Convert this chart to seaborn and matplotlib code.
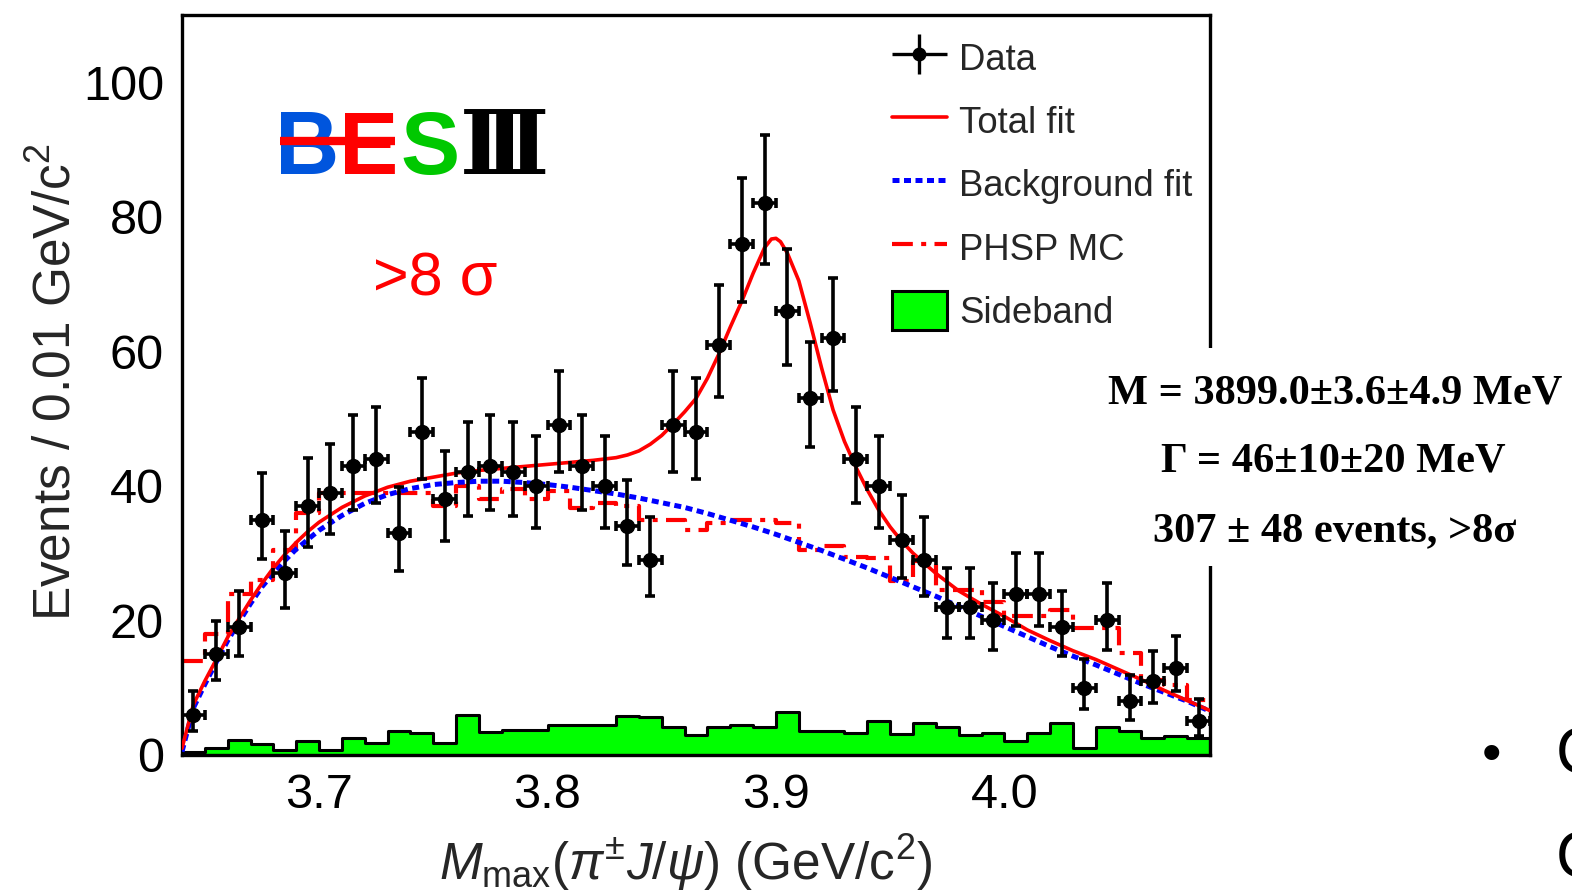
import numpy as np
import pandas as pd
import matplotlib
matplotlib.use("Agg")
import matplotlib.pyplot as plt
import seaborn as sns
from matplotlib.lines import Line2D
from matplotlib.patches import Patch, Rectangle
from matplotlib.legend_handler import HandlerErrorbar
from matplotlib.ticker import MultipleLocator, FixedLocator

# ---------------- data ----------------
bin_lo, bin_w, n_bins = 3.64, 0.01, 45

data_counts = [6, 15, 19, 35, 27, 37, 39, 43, 44, 33, 48, 38, 42, 43, 42,
               40, 49, 43, 40, 34, 29, 49, 48, 61, 76, 82, 66, 53, 62, 44,
               40, 32, 29, 22, 22, 20, 24, 24, 19, 10, 20, 8, 11, 13, 5]

phsp_mc = [14, 18, 24, 26, 30.5, 36, 39, 39, 39, 39, 39, 37, 40, 38, 39.5,
           38, 39.3, 36.7, 37.4, 37, 35, 35, 33.5, 34.5, 35, 35, 34.5, 30.5, 31, 29.4,
           29.3, 25.8, 28.8, 24.6, 24.6, 22.8, 20.6, 20.6, 21.6, 18.9, 18.9, 15.1, 11.2, 10.4, 8.2]

sideband = [0.5, 1.1, 2.2, 1.7, 0.7, 2.1, 0.8, 2.5, 1.8, 3.5, 3.2, 1.8, 5.9, 3.4, 3.7,
            3.7, 4.5, 4.5, 4.5, 5.8, 5.6, 4.2, 3.0, 4.2, 4.5, 4.2, 6.4, 3.5, 3.5, 3.2,
            5.1, 3.1, 4.7, 4.2, 3.0, 3.2, 2.1, 3.3, 4.75, 1.0, 4.15, 3.5, 2.6, 2.8, 2.6]

fit_x = [3.640, 3.645, 3.650, 3.655, 3.660, 3.665, 3.670, 3.675, 3.680, 3.685,
         3.690, 3.695, 3.700, 3.710, 3.720, 3.730, 3.740, 3.750, 3.760, 3.770,
         3.780, 3.790, 3.800, 3.810, 3.820, 3.830, 3.835, 3.840, 3.845, 3.850,
         3.855, 3.860, 3.865, 3.870, 3.875, 3.880, 3.885, 3.890, 3.895, 3.898,
         3.900, 3.902, 3.905, 3.910, 3.915, 3.920, 3.925, 3.930, 3.935, 3.940,
         3.945, 3.950, 3.955, 3.960, 3.970, 3.980, 3.990, 4.000, 4.010, 4.020,
         4.030, 4.040, 4.050, 4.060, 4.070, 4.080, 4.090]
total_fit = [1.0, 7.5, 11.0, 14.2, 17.5, 20.3, 23.0, 25.5, 27.8, 29.8,
             31.6, 33.2, 34.6, 36.8, 38.5, 39.8, 40.7, 41.3, 41.9, 42.3,
             42.6, 42.9, 43.2, 43.5, 43.8, 44.2, 44.6, 45.2, 46.2, 47.5,
             49.2, 51.0, 53.0, 56.0, 59.6, 63.6, 67.4, 71.6, 75.4, 76.7,
             76.8, 76.3, 74.6, 70.5, 64.2, 57.5, 51.3, 46.6, 42.8, 39.4,
             36.4, 33.9, 31.8, 30.0, 27.0, 24.4, 22.4, 20.6, 18.6, 17.0,
             15.5, 14.2, 12.7, 11.2, 9.6, 8.1, 6.6]

bkg_x = [3.640, 3.645, 3.650, 3.655, 3.660, 3.665, 3.670, 3.675, 3.680, 3.685,
         3.690, 3.695, 3.700, 3.710, 3.720, 3.730, 3.740, 3.750, 3.760, 3.770,
         3.780, 3.790, 3.800, 3.810, 3.820, 3.830, 3.840, 3.850, 3.860, 3.870,
         3.880, 3.890, 3.900, 3.910, 3.920, 3.930, 3.940, 3.950, 3.960, 3.970,
         3.980, 3.990, 4.000, 4.010, 4.020, 4.030, 4.040, 4.050, 4.060, 4.070,
         4.080, 4.090]
bkg_fit = [0.5, 7.0, 10.5, 13.8, 17.0, 19.8, 22.5, 25.0, 27.0, 28.9,
           30.6, 32.0, 33.4, 35.6, 37.4, 38.7, 39.6, 40.2, 40.5, 40.7,
           40.7, 40.5, 40.2, 39.8, 39.3, 38.8, 38.2, 37.5, 36.8, 35.9,
           34.9, 33.9, 32.8, 31.6, 30.4, 29.1, 27.8, 26.4, 25.0, 23.6,
           22.1, 20.6, 19.1, 17.6, 16.1, 14.7, 13.4, 12.0, 10.6, 9.3,
           8.0, 6.5]

x_tick_vals = [3.7, 3.8, 3.9, 4.0]
x_tick_labels = ["3.7", "3.8", "3.9", "4.0"]
y_tick_vals = [0, 20, 40, 60, 80, 100]
y_tick_labels = ["0", "20", "40", "60", "80", "100"]

# ---------------- derived ----------------
edges = np.round(bin_lo + bin_w * np.arange(n_bins + 1), 3)
centers = np.round(edges[:-1] + bin_w / 2, 4)
hist_df = pd.DataFrame({"mass": centers, "sideband": sideband, "phsp": phsp_mc})

# asymmetric Poisson (68%) intervals, Gehrels approximation
n = np.asarray(data_counts, float)
err_up = (n + 1) * (1 - 1 / (9 * (n + 1)) + 1 / (3 * np.sqrt(n + 1))) ** 3 - n
err_lo = n - n * (1 - 1 / (9 * n) - 1 / (3 * np.sqrt(n))) ** 3

# ---------------- style ----------------
sns.set_style("white")
plt.rcParams["font.family"] = ["Liberation Sans", "DejaVu Sans"]
plt.rcParams["mathtext.fontset"] = "custom"
plt.rcParams["mathtext.rm"] = "Liberation Sans"
plt.rcParams["mathtext.it"] = "Liberation Sans:italic"
plt.rcParams["mathtext.bf"] = "Liberation Sans:bold"

W, H = 1572, 890
fig = plt.figure(figsize=(W / 100, H / 100), dpi=100)
fig.patch.set_facecolor("white")
ax = fig.add_axes([182 / W, 1 - 755 / H, (1210 - 182) / W, (755 - 15) / H])

GREEN = "#00ff00"
binrange = (float(edges[0]), float(edges[-1]))

# sideband (filled step histogram)
sns.histplot(data=hist_df, x="mass", weights="sideband", binwidth=bin_w, binrange=binrange,
             element="step", fill=True, color=GREEN, alpha=1.0, edgecolor="black",
             linewidth=2.2, ax=ax, zorder=1)

# phase-space MC (dash-dot step histogram)
sns.histplot(data=hist_df, x="mass", weights="phsp", binwidth=bin_w, binrange=binrange,
             element="step", fill=False, color="red", linewidth=3.0,
             linestyle=(0, (5, 2, 1.2, 2)), ax=ax, zorder=2)

# fitted curves
sns.lineplot(x=bkg_x, y=bkg_fit, color="blue", linewidth=3.6,
             linestyle=(0, (1.4, 0.9)), sort=False, estimator=None, ax=ax, zorder=3)
sns.lineplot(x=fit_x, y=total_fit, color="red", linewidth=2.6,
             sort=False, estimator=None, ax=ax, zorder=4)

# data with error bars
ax.errorbar(centers, data_counts, yerr=[err_lo, err_up], xerr=bin_w / 2,
            fmt="o", color="black", ms=10, elinewidth=2.6, capsize=3.5,
            capthick=2.6, zorder=6)
# legend proxy for the data points (no caps)
h_data = ax.errorbar([np.nan], [np.nan], xerr=[1.0], yerr=[1.0], fmt="o",
                     color="black", ms=9, elinewidth=2.4, capsize=0)

# ---------------- axes ----------------
ax.set_xlim(edges[0], edges[-1])
ax.set_ylim(0, 110)
ax.xaxis.set_major_locator(FixedLocator(x_tick_vals))
ax.set_xticklabels(x_tick_labels)
ax.xaxis.set_minor_locator(MultipleLocator(0.02))
ax.yaxis.set_major_locator(FixedLocator(y_tick_vals))
ax.set_yticklabels(y_tick_labels)
ax.yaxis.set_minor_locator(MultipleLocator(5))

ax.tick_params(axis="both", which="both", direction="in", width=2.2, colors="black")
ax.tick_params(axis="x", which="major", length=15, labelsize=35, pad=13)
ax.tick_params(axis="x", which="minor", length=8)
ax.tick_params(axis="y", which="major", length=24, labelsize=35, pad=13)
ax.tick_params(axis="y", which="minor", length=12)
ax.tick_params(top=False, right=False, which="both")
for s in ax.spines.values():
    s.set_linewidth(2.4)
    s.set_color("black")
    s.set_visible(True)

ax.set_xlabel(r"$M_{\rm max}(\pi^{\pm}J/\psi)$ (GeV/c$^{2}$)", fontsize=37)
ax.set_ylabel(r"Events / 0.01 GeV/c$^{2}$", fontsize=37)
ax.xaxis.set_label_coords(0.49, -0.104)
ax.yaxis.set_label_coords(-0.098, 0.504)

# ---------------- legend ----------------
h_tot = Line2D([], [], color="red", lw=2.6)
h_bkg = Line2D([], [], color="blue", lw=3.6, linestyle=(0, (1.4, 0.9)))
h_phsp = Line2D([], [], color="red", lw=3.0, linestyle=(0, (5, 2, 1.2, 2)))
h_sb = Patch(facecolor=GREEN, edgecolor="black", linewidth=2.2)
ax.legend([h_data, h_tot, h_bkg, h_phsp, h_sb],
          ["Data", "Total fit", "Background fit", "PHSP MC", "Sideband"],
          loc="upper left", bbox_to_anchor=(892 / W, 1 - 38 / H),
          bbox_transform=fig.transFigure, frameon=False, fontsize=26.3,
          handlelength=1.5, handleheight=1.3, handletextpad=0.33,
          labelspacing=0.63, borderpad=0, borderaxespad=0,
          handler_map={type(h_data): HandlerErrorbar(xerr_size=0.75, yerr_size=0.55)})

# ---------------- experiment logo and significance ----------------
logo_base = 1 - 174 / H
logo_font = dict(fontsize=64, fontweight="bold", ha="center", va="baseline")
fig.text(307 / W, logo_base, "B", color="#0055dd", **logo_font)
fig.text(369 / W, logo_base, "E", color="red", **logo_font)
fig.text(430 / W, logo_base, "S", color="#00c800", **logo_font)
fig.text(505 / W, logo_base, "Ⅲ", color="black", fontsize=64, fontweight="bold",
         ha="center", va="baseline", family=["DejaVu Serif", "DejaVu Sans"])
fig.add_artist(Line2D([280 / W, 395 / W], [1 - 141 / H, 1 - 141 / H], color="red",
                      lw=6, transform=fig.transFigure, solid_capstyle="butt", zorder=4))
fig.text(435 / W, 1 - 296 / H, ">8 σ", color="red", fontsize=44, ha="center",
         va="baseline")

# ---------------- fit result box ----------------
fig.add_artist(Rectangle((1098 / W, 1 - 566 / H), (W - 1098) / W, (566 - 348) / H,
                         transform=fig.transFigure, facecolor="white",
                         edgecolor="none", zorder=5))
res_font = dict(family=["Liberation Serif", "DejaVu Serif"], fontweight="bold",
                fontsize=30.5, ha="center", va="center", color="black", zorder=6)
fig.text(1335 / W, 1 - 393 / H, "M = 3899.0±3.6±4.9 MeV", **res_font)
fig.text(1333 / W, 1 - 462 / H, "Γ = 46±10±20 MeV", **res_font)
fig.text(1335 / W, 1 - 531 / H, "307 ± 48 events, >8σ", **res_font)

# slide bullet at the lower right edge
fig.text(1491 / W, 1 - 757 / H, "•", fontsize=40, ha="center", va="center", color="black")
fig.text(1556 / W, 1 - 757 / H, "C", fontsize=46, ha="left", va="center", color="black")
fig.text(1556 / W, 1 - 860 / H, "C", fontsize=46, ha="left", va="center", color="black")

fig.savefig("out.png", dpi=100, facecolor="white")
